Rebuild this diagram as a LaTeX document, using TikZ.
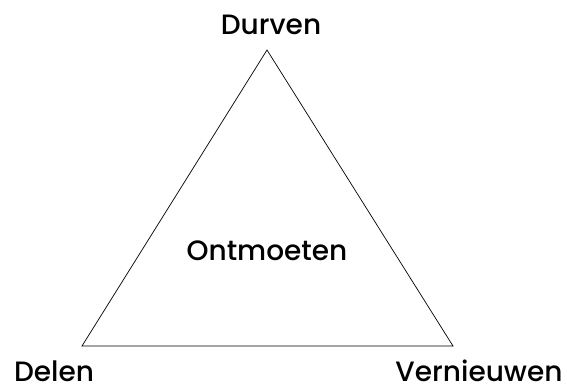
\documentclass[tikz,border=0pt]{standalone}
\usepackage{fontspec}
\setmainfont{Poppins}[UprightFont=* Medium]
\usetikzlibrary{positioning}
\tikzset{
  corner/.style={font=\fontsize{28}{32}\selectfont, anchor=base, inner sep=0pt},
  edge/.style={draw=black, line width=0.7pt, line join=miter}
}
\begin{document}
\begin{tikzpicture}[x=1pt, y=-1pt]

  % canvas
  \useasboundingbox (0,0) rectangle (567,387);

  % triangle corners
  \coordinate (top) at (267,50);
  \coordinate (left) at (82,346);
  \coordinate (right) at (453,346);

  % triangle
  \draw[edge] (top) -- (left) -- (right) -- cycle;

  % labels
  \node[corner] (durven) at (271,35) {Durven};
  \node[corner] (delen) at (54,381) {Delen};
  \node[corner] (vernieuwen) at (479,381) {Vernieuwen};
  \node[corner] (ontmoeten) at (267,261) {Ontmoeten};

\end{tikzpicture}
\end{document}
